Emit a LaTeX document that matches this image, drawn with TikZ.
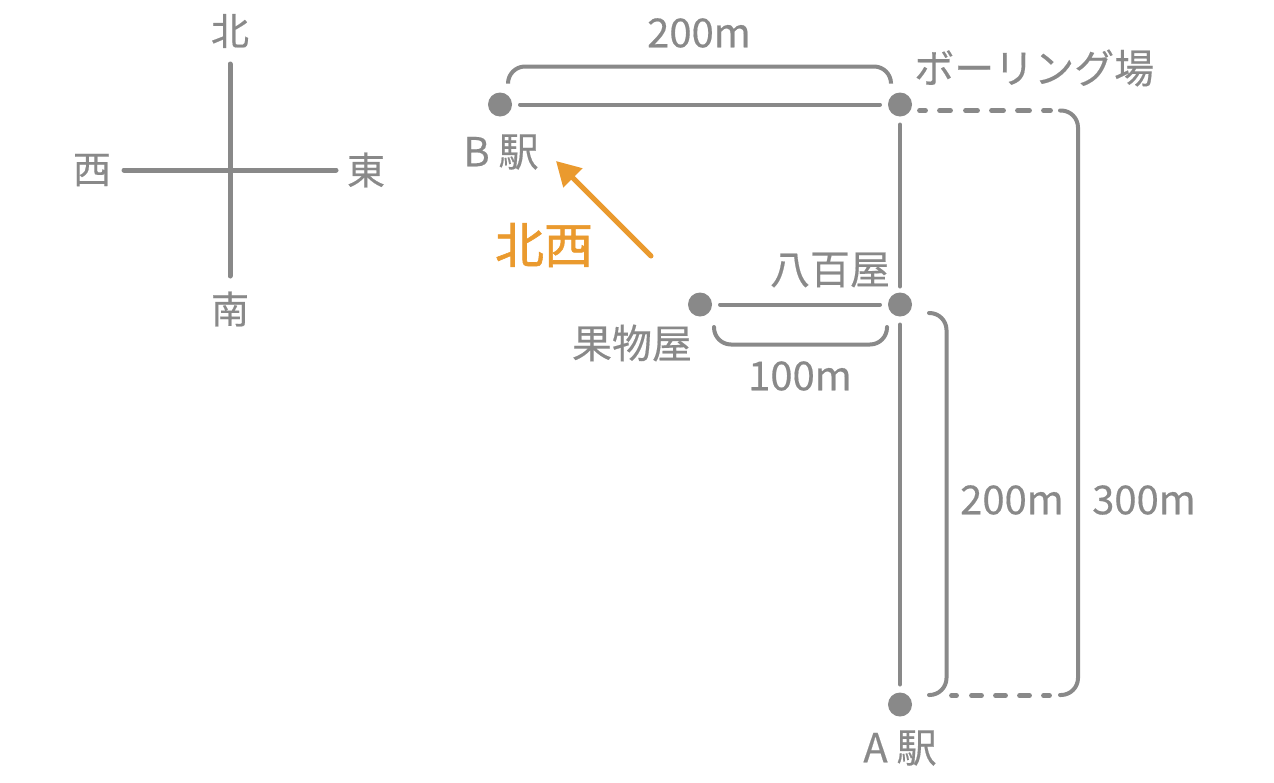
\documentclass[tikz,border=0pt]{standalone}
\usepackage{fontspec}
\setmainfont{Noto Sans CJK JP}[FakeBold=0.4]
\newfontfamily\heavyfont{Noto Sans CJK JP}[FakeBold=1.2]
\usetikzlibrary{arrows.meta}
\definecolor{gr}{HTML}{898989}
\definecolor{og}{HTML}{EA9A2E}
\tikzset{
 lbl/.style={text=gr,font=\fontsize{40}{40}\selectfont,inner sep=0pt},
 clbl/.style={text=gr,font=\fontsize{38}{38}\selectfont,inner sep=0pt},
 dot/.style={circle,fill=gr,minimum size=24pt,inner sep=0pt,outer sep=8pt},
 ln/.style={draw=gr,line width=4pt,line cap=round},
 cln/.style={draw=gr,line width=5pt,line cap=round},
 brk/.style={draw=gr,line width=4pt,line cap=round,rounded corners=17pt},
 dsh/.style={draw=gr,line width=4.8pt,line cap=round}
}
\begin{document}
\begin{tikzpicture}[x=1pt,y=-1pt]
\useasboundingbox (0,0) rectangle (1274,782);
\node[clbl] (n) at (230,31) {北};
\node[clbl] (s) at (230,309) {南};
\node[clbl] (w) at (92,170) {西};
\node[clbl] (e) at (366,170) {東};
\coordinate (nt) at (230,64); \coordinate (st) at (230,276);
\coordinate (wt) at (124,170); \coordinate (et) at (336,170);
\draw[cln] (nt) -- (st);
\draw[cln] (wt) -- (et);
\node[dot] (B) at (500,104.5) {};
\node[dot] (Bw) at (900,104.5) {};
\node[dot] (Y) at (900,304.5) {};
\node[dot] (F) at (700,304.5) {};
\node[dot] (A) at (900,704.5) {};
\draw[ln] (B) -- (Bw);
\draw[ln,shorten >=-2pt] (Bw) -- (Y);
\draw[ln] (F) -- (Y);
\draw[ln] (Y) -- (A);
\draw[brk] (508,83) -- (508,66.5) -- (891,66.5) -- (891,83);
\draw[brk] (714,327) -- (714,344.5) -- (887,344.5) -- (887,327);
\draw[brk] (929,313) -- (946.5,313) -- (946.5,695) -- (929,695);
\draw[brk] (1060,110.5) -- (1078,110.5) -- (1078,695) -- (1060,695);
\foreach \a/\b in {918/927,938/952,964/979,990/1005,1016/1031,1042/1052}
  \draw[dsh] (\a+1.5,110.5) -- (\b-1.5,110.5);
\foreach \a/\b in {950/958,970/983,994/1007,1018/1031,1042/1051}
  \draw[dsh] (\a+1.5,695.5) -- (\b-1.5,695.5);
\coordinate (as) at (651,256); \coordinate (at) at (556,161);
\draw[draw=og,line width=5pt,line cap=round,-{Triangle[length=24pt,width=26pt]}] (as) -- (at);
\node[lbl,text=og,font=\heavyfont\fontsize{49}{49}\selectfont] (nw) at (544,245) {北西};
\node[lbl] (b1) at (699,33) {200m};
\node[lbl,anchor=west] (b2) at (914,68) {ボーリング場};
\node[lbl] (b3) at (501,152) {B 駅};
\node[lbl] (y) at (830,270) {八百屋};
\node[lbl] (f) at (632,343) {果物屋};
\node[lbl] (b4) at (800,376) {100m};
\node[lbl] (b5) at (1012,500) {200m};
\node[lbl] (b6) at (1144,500) {300m};
\node[lbl] (a) at (900,748) {A 駅};
\end{tikzpicture}
\end{document}
